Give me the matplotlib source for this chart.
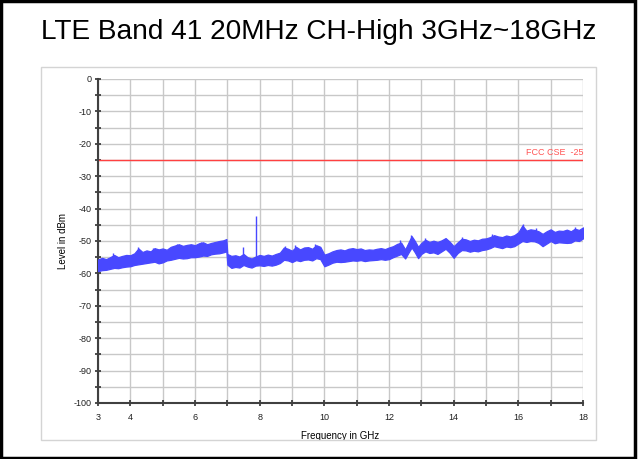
import numpy as np
import matplotlib
matplotlib.use('Agg')
import matplotlib.pyplot as plt
from matplotlib.patches import Rectangle

plt.rcParams['font.family'] = ['Liberation Sans', 'DejaVu Sans']
plt.rcParams['axes.unicode_minus'] = False

# ---------------------------------------------------------------
# data read off the picture (upper / lower envelope of the measured trace)
freq_ghz = [3.0, 3.125, 3.25, 3.375, 3.5, 3.625, 3.75, 3.875,
            4.0, 4.125, 4.25, 4.375, 4.5, 4.625, 4.75, 4.875,
            5.0, 5.125, 5.25, 5.375, 5.5, 5.625, 5.75, 5.875,
            6.0, 6.125, 6.25, 6.375, 6.5, 6.625, 6.75, 6.875, 6.97,
            7.0, 7.125, 7.25, 7.375, 7.5, 7.625, 7.75, 7.875,
            8.0, 8.125, 8.25, 8.375, 8.5, 8.625, 8.75, 8.875,
            9.0, 9.125, 9.25, 9.375, 9.5, 9.625, 9.75, 9.875,
            10.0, 10.125, 10.25, 10.375, 10.5, 10.625, 10.75, 10.875,
            11.0, 11.125, 11.25, 11.375, 11.5, 11.625, 11.75, 11.875,
            12.0, 12.125, 12.25, 12.375, 12.5, 12.625, 12.7, 12.8, 12.9,
            13.0, 13.125, 13.25, 13.375, 13.5, 13.625, 13.75, 13.875,
            14.0, 14.125, 14.25, 14.375, 14.5, 14.625, 14.75, 14.875,
            15.0, 15.125, 15.25, 15.375, 15.5, 15.625, 15.75, 15.875,
            16.0, 16.125, 16.25, 16.375, 16.5, 16.625, 16.75, 16.875,
            17.0, 17.125, 17.25, 17.375, 17.5, 17.625, 17.75, 17.875, 18.0]
level_hi = [-55.7, -55.2, -55.6, -55.0, -54.3, -55.0, -54.6, -54.3,
            -54.4, -53.8, -52.3, -53.4, -52.9, -53.2, -52.2, -52.6,
            -52.3, -52.7, -51.8, -51.4, -51.0, -51.5, -51.2, -51.0,
            -51.3, -50.7, -50.4, -51.0, -50.6, -50.3, -50.0, -49.8, -49.4,
            -54.0, -54.6, -54.4, -54.8, -54.0, -55.0, -55.4, -54.8,
            -54.3, -54.6, -54.2, -54.5, -54.0, -53.6, -52.0, -52.4,
            -53.0, -51.8, -52.6, -52.0, -51.9, -52.4, -51.3, -51.8,
            -54.2, -53.8, -53.2, -52.8, -52.6, -52.9, -52.4, -52.2,
            -52.5, -52.3, -52.8, -52.6, -52.7, -52.4, -52.2, -52.5,
            -52.0, -51.6, -50.9, -50.5, -52.6, -50.0, -48.5, -50.0, -51.8,
            -50.6, -49.6, -50.3, -49.9, -50.3, -49.8, -49.1, -50.2,
            -51.6, -50.4, -49.3, -49.5, -50.0, -49.6, -49.8, -49.3,
            -49.2, -48.8, -48.2, -48.6, -48.8, -48.3, -48.6, -48.2,
            -47.3, -45.2, -46.8, -46.4, -46.6, -47.0, -47.8, -47.0,
            -46.4, -47.2, -46.8, -46.9, -46.5, -47.0, -46.2, -46.6, -45.8]
level_lo = [-59.3, -59.0, -58.9, -58.6, -58.3, -58.4, -58.1, -57.9,
            -57.8, -57.4, -57.2, -57.0, -56.8, -56.6, -56.4, -56.9,
            -56.6, -56.0, -55.8, -55.5, -55.2, -55.4, -55.3, -55.0,
            -55.0, -54.8, -54.5, -54.6, -54.1, -53.9, -53.8, -53.5, -53.2,
            -57.3, -58.3, -58.0, -58.2, -57.4, -57.9, -58.2, -57.6,
            -57.5, -57.7, -57.4, -57.6, -57.3, -56.8, -55.8, -56.0,
            -56.5, -55.9, -56.2, -55.8, -55.7, -56.0, -55.3, -55.6,
            -57.8, -57.3, -56.7, -56.4, -56.5, -56.4, -56.2, -56.0,
            -56.1, -55.9, -56.2, -56.0, -55.9, -55.8, -55.6, -55.8,
            -55.6, -55.0, -54.5, -54.0, -55.4, -53.2, -52.0, -53.5, -55.3,
            -54.0, -53.2, -53.7, -53.5, -54.0, -53.2, -52.4, -53.6,
            -55.2, -53.7, -52.8, -52.9, -53.3, -53.0, -53.2, -52.8,
            -52.6, -52.2, -51.6, -51.9, -52.2, -51.7, -51.9, -51.6,
            -50.8, -50.0, -50.3, -50.0, -50.1, -50.6, -51.6, -50.8,
            -50.0, -50.7, -50.4, -50.5, -50.6, -50.5, -49.8, -50.0, -49.2]

# narrow spurs sticking out of the trace
spur_ghz = [3.47, 4.25, 4.7, 5.45, 6.2, 7.47, 7.9, 8.78, 9.1, 9.7,
            12.35, 12.68, 13.1, 14.25, 15.2, 16.13, 16.55, 17.75]
spur_top = [-53.8, -52.0, -52.3, -50.8, -50.2, -52.0, -42.4, -51.4, -51.2, -50.8,
            -49.8, -48.0, -49.2, -48.8, -47.8, -44.8, -46.0, -45.8]
spur_base = [-56.0, -55.0, -54.5, -53.0, -52.5, -55.5, -55.0, -54.0, -54.0, -53.5,
             -52.5, -50.5, -51.5, -51.0, -50.0, -48.0, -48.5, -48.5]

limit_db = -25
limit_text = 'FCC CSE  -25'

x_ticks = list(range(3, 19))
x_ticklabels = ['3', '4', '', '6', '', '8', '', '10', '', '12', '', '14', '', '16', '', '18']
y_major = list(range(-100, 1, 10))
y_minor = list(range(-95, 0, 10))

# ---------------------------------------------------------------
W, H = 638, 459
fig = plt.figure(figsize=(W / 100, H / 100), dpi=100)

# outer black frame + inner gray frame (pixel coords -> figure fraction)
fig.patches.append(Rectangle((0.001, 0.002), 0.995, 0.996, transform=fig.transFigure,
                             fill=False, edgecolor='black', linewidth=2.5))
fig.patches.append(Rectangle((41 / W, 1 - 440 / H), (596 - 41) / W, (440 - 67) / H,
                             transform=fig.transFigure, fill=False,
                             edgecolor='#d4d4d4', linewidth=1.0))

fig.text(0.5, 1 - 32 / H, 'LTE Band 41 20MHz CH-High 3GHz~18GHz',
         ha='center', va='center', fontsize=20.2)

ax = fig.add_axes([98 / W, 1 - 403 / H, (583 - 98) / W, (403 - 79) / H])

ax.fill_between(freq_ghz, level_lo, level_hi, color='#4848ff', linewidth=0.9,
                edgecolor='#4848ff', zorder=3)
ax.vlines(spur_ghz, spur_base, spur_top, color='#4848ff', linewidth=1.0, zorder=3)

ax.axhline(limit_db, color='#ff4040', linewidth=1.0, zorder=2)
ax.text(18, limit_db + 0.8, limit_text, color='#ff5555', fontsize=6.5,
        ha='right', va='bottom')

ax.set_xlim(3, 18)
ax.set_ylim(-100, 0)
ax.set_xticks(x_ticks)
ax.set_xticklabels(x_ticklabels)
ax.set_yticks(y_major)
ax.set_yticks(y_minor, minor=True)

ax.grid(True, which='both', color='#c8c8c8', linewidth=1.0, zorder=0)
ax.set_axisbelow(True)

for s in ['top', 'right']:
    ax.spines[s].set_visible(False)
for s in ['left', 'bottom']:
    ax.spines[s].set_color('#404040')
    ax.spines[s].set_linewidth(1.5)

ax.tick_params(which='both', direction='inout', length=5, width=1.2,
               color='#303030', labelsize=6.5, labelcolor='#202020', pad=2)
ax.tick_params(axis='x', pad=5)

ax.set_xlabel('Frequency in GHz', fontsize=7, labelpad=6)
ax.set_ylabel('Level in dBm', fontsize=7, labelpad=4)

fig.savefig('out.png', dpi=100)
